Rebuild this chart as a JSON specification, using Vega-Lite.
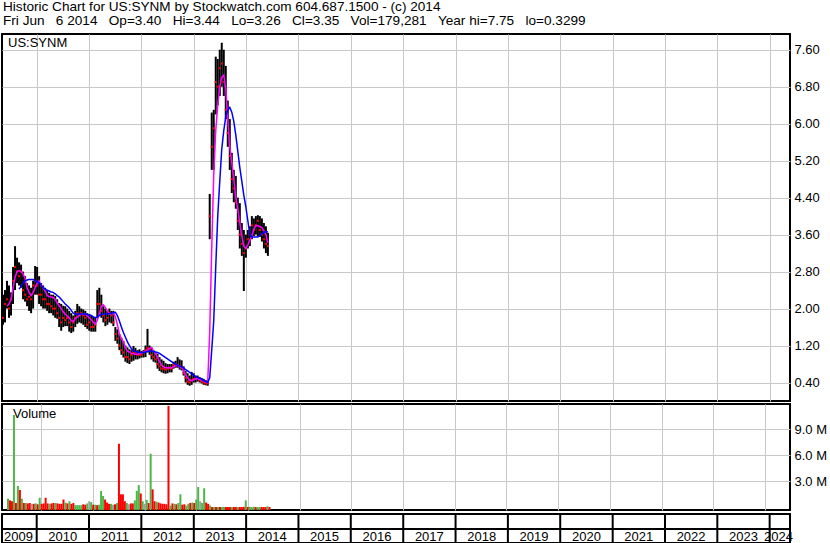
{
  "$schema": "https://vega.github.io/schema/vega-lite/v6.json",
  "background": "white",
  "padding": {"left": 0, "top": 0, "right": 0, "bottom": 0},
  "spacing": 1,
  "title": {
    "text": ["Historic Chart for US:SYNM by Stockwatch.com 604.687.1500 - (c) 2014", "Fri Jun \u00a0\u00a06 2014 \u00a0\u00a0Op=3.40 \u00a0\u00a0Hi=3.44 \u00a0\u00a0Lo=3.26 \u00a0\u00a0Cl=3.35 \u00a0\u00a0Vol=179,281 \u00a0\u00a0Year hi=7.75 \u00a0\u00a0lo=0.3299"],
    "anchor": "start", "frame": "bounds", "font": "Liberation Sans", "fontSize": 13.6, "fontWeight": "normal",
    "baseline": "top", "lineHeight": 14, "color": "black", "offset": 5, "dx": 3
  },
  "config": {
    "view": {"stroke": "black", "strokeWidth": 2},
    "font": "Liberation Sans",
    "axis": {"labelOverlap": false, "labelBound": false},
    "axisY": {"labelOverlap": false},
    "text": {"font": "Liberation Sans", "color": "black"}
  },
  "datasets": {
    "d": [
      {"t":"2009-05-11","h":2.3,"l":1.65,"c":1.8,"m":null,"b":null,"v":1000000,"k":"up"},
      {"t":"2009-05-25","h":2.4,"l":1.7,"c":2.1,"m":null,"b":null,"v":800000,"k":"dn"},
      {"t":"2009-06-08","h":2.6,"l":2.0,"c":2.2,"m":2.05,"b":null,"v":700000,"k":"dn"},
      {"t":"2009-06-22","h":2.5,"l":1.8,"c":2.0,"m":2.1,"b":null,"v":10650000,"k":"up"},
      {"t":"2009-07-06","h":2.35,"l":1.85,"c":2.2,"m":2.2,"b":null,"v":500000,"k":"dn"},
      {"t":"2009-07-20","h":2.9,"l":2.1,"c":2.6,"m":2.45,"b":null,"v":2460000,"k":"up"},
      {"t":"2009-08-03","h":3.35,"l":2.4,"c":2.9,"m":2.68,"b":null,"v":2000000,"k":"dn"},
      {"t":"2009-08-17","h":3.1,"l":2.55,"c":2.8,"m":2.8,"b":null,"v":1000000,"k":"up"},
      {"t":"2009-08-31","h":3.0,"l":2.5,"c":2.7,"m":2.82,"b":2.42,"v":500000,"k":"dn"},
      {"t":"2009-09-14","h":2.95,"l":2.45,"c":2.8,"m":2.8,"b":2.48,"v":500000,"k":"up"},
      {"t":"2009-09-28","h":2.8,"l":2.2,"c":2.4,"m":2.75,"b":2.56,"v":450000,"k":"dn"},
      {"t":"2009-10-12","h":2.7,"l":2.15,"c":2.3,"m":2.65,"b":2.6,"v":500000,"k":"dn"},
      {"t":"2009-10-26","h":2.55,"l":2.05,"c":2.2,"m":2.45,"b":2.62,"v":400000,"k":"eq"},
      {"t":"2009-11-09","h":2.5,"l":1.95,"c":2.25,"m":2.35,"b":2.63,"v":400000,"k":"dn"},
      {"t":"2009-11-23","h":2.45,"l":1.9,"c":2.2,"m":2.28,"b":2.63,"v":450000,"k":"up"},
      {"t":"2009-12-07","h":2.6,"l":2.0,"c":2.5,"m":2.35,"b":2.63,"v":350000,"k":"dn"},
      {"t":"2009-12-21","h":2.92,"l":2.3,"c":2.6,"m":2.45,"b":2.6,"v":1100000,"k":"up"},
      {"t":"2010-01-04","h":2.9,"l":2.3,"c":2.5,"m":2.55,"b":2.58,"v":400000,"k":"dn"},
      {"t":"2010-01-18","h":2.7,"l":2.1,"c":2.3,"m":2.6,"b":2.56,"v":450000,"k":"dn"},
      {"t":"2010-02-01","h":2.55,"l":2.05,"c":2.3,"m":2.5,"b":2.5,"v":1100000,"k":"dn"},
      {"t":"2010-02-15","h":2.5,"l":2.0,"c":2.2,"m":2.45,"b":2.45,"v":450000,"k":"dn"},
      {"t":"2010-03-01","h":2.45,"l":2.0,"c":2.2,"m":2.38,"b":2.42,"v":400000,"k":"up"},
      {"t":"2010-03-15","h":2.4,"l":1.95,"c":2.1,"m":2.28,"b":2.4,"v":450000,"k":"dn"},
      {"t":"2010-03-29","h":2.34,"l":1.9,"c":2.1,"m":2.26,"b":2.38,"v":500000,"k":"dn"},
      {"t":"2010-04-12","h":2.3,"l":1.9,"c":2.05,"m":2.25,"b":2.36,"v":500000,"k":"up"},
      {"t":"2010-04-26","h":2.3,"l":1.85,"c":2.0,"m":2.24,"b":2.35,"v":450000,"k":"dn"},
      {"t":"2010-05-10","h":2.27,"l":1.8,"c":2.0,"m":2.2,"b":2.32,"v":400000,"k":"dn"},
      {"t":"2010-05-24","h":2.2,"l":1.78,"c":1.9,"m":2.12,"b":2.28,"v":400000,"k":"dn"},
      {"t":"2010-06-07","h":2.12,"l":1.6,"c":1.8,"m":2.06,"b":2.25,"v":900000,"k":"dn"},
      {"t":"2010-06-21","h":2.1,"l":1.52,"c":1.7,"m":2.0,"b":2.2,"v":550000,"k":"up"},
      {"t":"2010-07-05","h":2.06,"l":1.6,"c":1.8,"m":1.93,"b":2.15,"v":450000,"k":"dn"},
      {"t":"2010-07-19","h":2.05,"l":1.62,"c":1.75,"m":1.88,"b":2.1,"v":700000,"k":"up"},
      {"t":"2010-08-02","h":2.0,"l":1.62,"c":1.8,"m":1.84,"b":2.06,"v":400000,"k":"dn"},
      {"t":"2010-08-16","h":1.95,"l":1.5,"c":1.7,"m":1.8,"b":2.02,"v":500000,"k":"dn"},
      {"t":"2010-08-30","h":1.9,"l":1.47,"c":1.6,"m":1.74,"b":1.96,"v":250000,"k":"up"},
      {"t":"2010-09-13","h":1.85,"l":1.5,"c":1.7,"m":1.72,"b":1.9,"v":250000,"k":"up"},
      {"t":"2010-09-27","h":1.95,"l":1.6,"c":1.8,"m":1.78,"b":1.88,"v":250000,"k":"up"},
      {"t":"2010-10-11","h":2.1,"l":1.67,"c":1.9,"m":1.82,"b":1.88,"v":250000,"k":"up"},
      {"t":"2010-10-25","h":2.05,"l":1.7,"c":1.85,"m":1.86,"b":1.88,"v":350000,"k":"dn"},
      {"t":"2010-11-08","h":2.0,"l":1.68,"c":1.9,"m":1.88,"b":1.88,"v":300000,"k":"dn"},
      {"t":"2010-11-22","h":1.98,"l":1.65,"c":1.85,"m":1.88,"b":1.88,"v":450000,"k":"up"},
      {"t":"2010-12-06","h":1.95,"l":1.6,"c":1.8,"m":1.88,"b":1.88,"v":700000,"k":"eq"},
      {"t":"2010-12-20","h":1.9,"l":1.56,"c":1.65,"m":1.84,"b":1.87,"v":600000,"k":"up"},
      {"t":"2011-01-03","h":1.88,"l":1.52,"c":1.7,"m":1.8,"b":1.86,"v":300000,"k":"dn"},
      {"t":"2011-01-17","h":1.85,"l":1.5,"c":1.6,"m":1.76,"b":1.85,"v":300000,"k":"up"},
      {"t":"2011-01-31","h":1.82,"l":1.5,"c":1.6,"m":1.7,"b":1.82,"v":250000,"k":"dn"},
      {"t":"2011-02-14","h":1.8,"l":1.5,"c":1.65,"m":1.67,"b":1.8,"v":300000,"k":"up"},
      {"t":"2011-02-28","h":2.4,"l":1.8,"c":2.1,"m":1.75,"b":1.82,"v":1880000,"k":"up"},
      {"t":"2011-03-14","h":2.45,"l":1.85,"c":2.1,"m":1.88,"b":1.85,"v":1300000,"k":"up"},
      {"t":"2011-03-28","h":2.3,"l":1.8,"c":1.95,"m":2.05,"b":1.87,"v":900000,"k":"dn"},
      {"t":"2011-04-11","h":2.05,"l":1.7,"c":1.85,"m":2.08,"b":1.88,"v":550000,"k":"dn"},
      {"t":"2011-04-25","h":2.0,"l":1.62,"c":1.75,"m":2.02,"b":1.88,"v":400000,"k":"dn"},
      {"t":"2011-05-09","h":1.95,"l":1.65,"c":1.8,"m":1.95,"b":1.88,"v":400000,"k":"up"},
      {"t":"2011-05-23","h":2.0,"l":1.7,"c":1.9,"m":1.88,"b":1.89,"v":300000,"k":"eq"},
      {"t":"2011-06-06","h":1.95,"l":1.68,"c":1.85,"m":1.89,"b":1.9,"v":350000,"k":"dn"},
      {"t":"2011-06-20","h":1.95,"l":1.62,"c":1.7,"m":1.9,"b":1.91,"v":500000,"k":"up"},
      {"t":"2011-07-04","h":1.6,"l":1.3,"c":1.45,"m":1.82,"b":1.92,"v":7340000,"k":"dn"},
      {"t":"2011-07-18","h":1.55,"l":1.24,"c":1.35,"m":1.65,"b":1.85,"v":1500000,"k":"dn"},
      {"t":"2011-08-01","h":1.45,"l":1.1,"c":1.2,"m":1.45,"b":1.73,"v":1500000,"k":"dn"},
      {"t":"2011-08-15","h":1.37,"l":1.0,"c":1.1,"m":1.35,"b":1.6,"v":700000,"k":"dn"},
      {"t":"2011-08-29","h":1.3,"l":0.94,"c":1.05,"m":1.28,"b":1.48,"v":500000,"k":"up"},
      {"t":"2011-09-12","h":1.2,"l":0.85,"c":0.95,"m":1.15,"b":1.38,"v":350000,"k":"eq"},
      {"t":"2011-09-26","h":1.16,"l":0.82,"c":0.95,"m":1.08,"b":1.28,"v":450000,"k":"dn"},
      {"t":"2011-10-10","h":1.12,"l":0.8,"c":0.9,"m":1.06,"b":1.2,"v":450000,"k":"dn"},
      {"t":"2011-10-24","h":1.1,"l":0.85,"c":1.0,"m":1.03,"b":1.13,"v":800000,"k":"up"},
      {"t":"2011-11-07","h":1.19,"l":0.87,"c":1.05,"m":1.02,"b":1.08,"v":1900000,"k":"up"},
      {"t":"2011-11-21","h":1.15,"l":0.9,"c":1.05,"m":1.01,"b":1.07,"v":2570000,"k":"up"},
      {"t":"2011-12-05","h":1.1,"l":0.9,"c":1.0,"m":1.01,"b":1.06,"v":1600000,"k":"dn"},
      {"t":"2011-12-19","h":1.12,"l":0.92,"c":1.0,"m":1.02,"b":1.05,"v":700000,"k":"up"},
      {"t":"2012-01-02","h":1.08,"l":0.94,"c":1.0,"m":1.04,"b":1.05,"v":400000,"k":"eq"},
      {"t":"2012-01-16","h":1.1,"l":0.94,"c":1.05,"m":1.06,"b":1.05,"v":850000,"k":"up"},
      {"t":"2012-01-30","h":1.2,"l":0.95,"c":1.1,"m":1.07,"b":1.06,"v":500000,"k":"dn"},
      {"t":"2012-02-13","h":1.56,"l":1.05,"c":1.15,"m":1.1,"b":1.07,"v":6190000,"k":"up"},
      {"t":"2012-02-27","h":1.2,"l":1.0,"c":1.1,"m":1.14,"b":1.08,"v":2070000,"k":"dn"},
      {"t":"2012-03-12","h":1.16,"l":0.9,"c":1.0,"m":1.16,"b":1.08,"v":700000,"k":"dn"},
      {"t":"2012-03-26","h":1.1,"l":0.85,"c":0.95,"m":1.08,"b":1.07,"v":650000,"k":"up"},
      {"t":"2012-04-09","h":1.05,"l":0.83,"c":0.9,"m":1.02,"b":1.06,"v":550000,"k":"dn"},
      {"t":"2012-04-23","h":1.02,"l":0.7,"c":0.8,"m":0.95,"b":1.05,"v":450000,"k":"dn"},
      {"t":"2012-05-07","h":0.95,"l":0.65,"c":0.75,"m":0.85,"b":1.03,"v":400000,"k":"dn"},
      {"t":"2012-05-21","h":0.9,"l":0.62,"c":0.7,"m":0.78,"b":1.0,"v":400000,"k":"dn"},
      {"t":"2012-06-04","h":0.87,"l":0.6,"c":0.7,"m":0.74,"b":0.97,"v":350000,"k":"dn"},
      {"t":"2012-06-18","h":0.82,"l":0.59,"c":0.68,"m":0.72,"b":0.94,"v":11700000,"k":"dn"},
      {"t":"2012-07-02","h":0.8,"l":0.6,"c":0.7,"m":0.72,"b":0.91,"v":200000,"k":"up"},
      {"t":"2012-07-16","h":0.8,"l":0.62,"c":0.72,"m":0.72,"b":0.88,"v":450000,"k":"dn"},
      {"t":"2012-07-30","h":0.8,"l":0.62,"c":0.7,"m":0.72,"b":0.85,"v":400000,"k":"up"},
      {"t":"2012-08-13","h":0.85,"l":0.7,"c":0.78,"m":0.74,"b":0.82,"v":350000,"k":"dn"},
      {"t":"2012-08-27","h":0.87,"l":0.72,"c":0.8,"m":0.76,"b":0.8,"v":500000,"k":"up"},
      {"t":"2012-09-10","h":0.95,"l":0.72,"c":0.78,"m":0.77,"b":0.77,"v":1500000,"k":"up"},
      {"t":"2012-09-24","h":0.9,"l":0.68,"c":0.75,"m":0.75,"b":0.76,"v":300000,"k":"dn"},
      {"t":"2012-10-08","h":0.88,"l":0.66,"c":0.72,"m":0.72,"b":0.74,"v":350000,"k":"dn"},
      {"t":"2012-10-22","h":0.75,"l":0.55,"c":0.6,"m":0.65,"b":0.71,"v":200000,"k":"up"},
      {"t":"2012-11-05","h":0.65,"l":0.4,"c":0.5,"m":0.57,"b":0.68,"v":400000,"k":"up"},
      {"t":"2012-11-19","h":0.6,"l":0.35,"c":0.42,"m":0.5,"b":0.65,"v":500000,"k":"dn"},
      {"t":"2012-12-03","h":0.55,"l":0.33,"c":0.4,"m":0.45,"b":0.62,"v":550000,"k":"up"},
      {"t":"2012-12-17","h":0.63,"l":0.35,"c":0.45,"m":0.44,"b":0.59,"v":500000,"k":"dn"},
      {"t":"2012-12-31","h":0.6,"l":0.4,"c":0.48,"m":0.46,"b":0.56,"v":900000,"k":"up"},
      {"t":"2013-01-14","h":0.55,"l":0.4,"c":0.48,"m":0.48,"b":0.53,"v":2340000,"k":"up"},
      {"t":"2013-01-28","h":0.55,"l":0.42,"c":0.5,"m":0.48,"b":0.51,"v":700000,"k":"eq"},
      {"t":"2013-02-11","h":0.52,"l":0.4,"c":0.45,"m":0.47,"b":0.49,"v":500000,"k":"up"},
      {"t":"2013-02-25","h":0.5,"l":0.38,"c":0.42,"m":0.45,"b":0.47,"v":2200000,"k":"up"},
      {"t":"2013-03-11","h":0.48,"l":0.35,"c":0.4,"m":0.43,"b":0.44,"v":550000,"k":"dn"},
      {"t":"2013-03-25","h":0.45,"l":0.34,"c":0.38,"m":0.41,"b":0.42,"v":400000,"k":"dn"},
      {"t":"2013-04-08","h":0.45,"l":0.33,"c":0.38,"m":0.4,"b":0.4,"v":200000,"k":"up"},
      {"t":"2013-04-22","h":4.48,"l":3.5,"c":4.0,"m":1.5,"b":0.5,"v":30000,"k":"dn"},
      {"t":"2013-05-06","h":6.24,"l":5.0,"c":5.5,"m":3.3,"b":1.1,"v":40000,"k":"up"},
      {"t":"2013-05-20","h":6.3,"l":5.0,"c":5.9,"m":4.9,"b":1.73,"v":30000,"k":"dn"},
      {"t":"2013-06-03","h":7.45,"l":6.2,"c":6.9,"m":5.85,"b":2.9,"v":30000,"k":"up"},
      {"t":"2013-06-17","h":7.4,"l":6.4,"c":6.8,"m":6.4,"b":4.0,"v":40000,"k":"dn"},
      {"t":"2013-07-01","h":7.6,"l":6.6,"c":7.2,"m":6.8,"b":4.75,"v":30000,"k":"up"},
      {"t":"2013-07-15","h":7.75,"l":6.8,"c":7.3,"m":7.0,"b":5.45,"v":30000,"k":"up"},
      {"t":"2013-07-29","h":7.6,"l":6.6,"c":6.9,"m":7.05,"b":5.85,"v":40000,"k":"dn"},
      {"t":"2013-08-12","h":7.25,"l":6.1,"c":6.3,"m":6.75,"b":6.15,"v":30000,"k":"dn"},
      {"t":"2013-08-26","h":6.5,"l":5.5,"c":5.8,"m":6.1,"b":6.3,"v":30000,"k":"dn"},
      {"t":"2013-09-09","h":6.1,"l":5.0,"c":5.3,"m":5.5,"b":6.35,"v":30000,"k":"up"},
      {"t":"2013-09-23","h":5.37,"l":4.5,"c":4.8,"m":5.16,"b":6.25,"v":40000,"k":"dn"},
      {"t":"2013-10-07","h":5.0,"l":4.3,"c":4.6,"m":4.8,"b":6.05,"v":30000,"k":"dn"},
      {"t":"2013-10-21","h":4.87,"l":4.16,"c":4.3,"m":4.4,"b":5.75,"v":30000,"k":"up"},
      {"t":"2013-11-04","h":4.4,"l":3.7,"c":3.9,"m":4.15,"b":5.4,"v":40000,"k":"dn"},
      {"t":"2013-11-18","h":4.28,"l":3.3,"c":3.6,"m":3.85,"b":5.05,"v":30000,"k":"dn"},
      {"t":"2013-12-02","h":3.85,"l":3.14,"c":3.4,"m":3.57,"b":4.75,"v":60000,"k":"dn"},
      {"t":"2013-12-16","h":3.7,"l":2.38,"c":3.2,"m":3.35,"b":4.45,"v":800000,"k":"up"},
      {"t":"2013-12-30","h":3.6,"l":3.1,"c":3.3,"m":3.3,"b":4.2,"v":40000,"k":"dn"},
      {"t":"2014-01-13","h":3.7,"l":3.3,"c":3.5,"m":3.38,"b":3.9,"v":60000,"k":"up"},
      {"t":"2014-01-27","h":3.78,"l":3.35,"c":3.6,"m":3.48,"b":3.6,"v":30000,"k":"up"},
      {"t":"2014-02-10","h":4.0,"l":3.5,"c":3.8,"m":3.57,"b":3.55,"v":60000,"k":"up"},
      {"t":"2014-02-24","h":3.95,"l":3.57,"c":3.7,"m":3.72,"b":3.55,"v":30000,"k":"dn"},
      {"t":"2014-03-10","h":4.0,"l":3.6,"c":3.8,"m":3.8,"b":3.55,"v":40000,"k":"up"},
      {"t":"2014-03-24","h":4.02,"l":3.57,"c":3.9,"m":3.79,"b":3.55,"v":30000,"k":"up"},
      {"t":"2014-04-07","h":4.0,"l":3.55,"c":3.7,"m":3.77,"b":3.58,"v":40000,"k":"dn"},
      {"t":"2014-04-21","h":3.95,"l":3.45,"c":3.6,"m":3.75,"b":3.62,"v":30000,"k":"dn"},
      {"t":"2014-05-05","h":3.85,"l":3.3,"c":3.5,"m":3.68,"b":3.65,"v":30000,"k":"dn"},
      {"t":"2014-05-19","h":3.78,"l":3.2,"c":3.4,"m":3.6,"b":3.66,"v":120000,"k":"up"},
      {"t":"2014-06-02","h":3.64,"l":3.14,"c":3.35,"m":3.42,"b":3.66,"v":40000,"k":"dn"}
    ],
    "years": [
      {"d":"2010-01-01"},{"d":"2011-01-01"},{"d":"2012-01-01"},{"d":"2013-01-01"},{"d":"2014-01-01"},
      {"d":"2015-01-01"},{"d":"2016-01-01"},{"d":"2017-01-01"},{"d":"2018-01-01"},{"d":"2019-01-01"},
      {"d":"2020-01-01"},{"d":"2021-01-01"},{"d":"2022-01-01"},{"d":"2023-01-01"},{"d":"2024-01-01"}
    ],
    "labels": [
      {"yr":"2009","mid":"2009-08-27"},{"yr":"2010","mid":"2010-07-02"},{"yr":"2011","mid":"2011-07-02"},
      {"yr":"2012","mid":"2012-07-02"},{"yr":"2013","mid":"2013-07-02"},{"yr":"2014","mid":"2014-07-02"},
      {"yr":"2015","mid":"2015-07-02"},{"yr":"2016","mid":"2016-07-02"},{"yr":"2017","mid":"2017-07-02"},
      {"yr":"2018","mid":"2018-07-02"},{"yr":"2019","mid":"2019-07-02"},{"yr":"2020","mid":"2020-07-02"},
      {"yr":"2021","mid":"2021-07-02"},{"yr":"2022","mid":"2022-07-02"},{"yr":"2023","mid":"2023-07-02"},
      {"yr":"2024","mid":"2024-03-02"}
    ]
  },
  "vconcat": [
    {
      "width": 788,
      "height": 367,
      "data": {"name": "d"},
      "layer": [
        {
          "mark": {"type": "rule", "color": "black", "strokeWidth": 2},
          "encoding": {
            "x": {"field": "t", "type": "temporal",
              "scale": {"domain": [{"year":2009,"month":5,"date":4,"utc":true},{"year":2024,"month":5,"date":22,"utc":true}], "nice": false},
              "axis": {"values": [{"year":2010,"month":1,"date":1,"utc":true},{"year":2011,"month":1,"date":1,"utc":true},{"year":2012,"month":1,"date":1,"utc":true},{"year":2013,"month":1,"date":1,"utc":true},{"year":2014,"month":1,"date":1,"utc":true},{"year":2015,"month":1,"date":1,"utc":true},{"year":2016,"month":1,"date":1,"utc":true},{"year":2017,"month":1,"date":1,"utc":true},{"year":2018,"month":1,"date":1,"utc":true},{"year":2019,"month":1,"date":1,"utc":true},{"year":2020,"month":1,"date":1,"utc":true},{"year":2021,"month":1,"date":1,"utc":true},{"year":2022,"month":1,"date":1,"utc":true},{"year":2023,"month":1,"date":1,"utc":true},{"year":2024,"month":1,"date":1,"utc":true}],
                "labels": false, "ticks": false, "domain": false, "grid": true, "gridColor": "#c8c8c8", "gridOpacity": 1, "title": null, "minExtent": 0, "maxExtent": 0}},
            "y": {"field": "l", "type": "quantitative",
              "scale": {"domain": [0, 7.94], "nice": false, "zero": false},
              "axis": {"orient": "right", "values": [0.4,0.8,1.2,1.6,2.0,2.4,2.8,3.2,3.6,4.0,4.4,4.8,5.2,5.6,6.0,6.4,6.8,7.2,7.6],
                "format": ".2f", "ticks": false, "domain": false, "grid": true, "gridColor": "#c8c8c8", "gridOpacity": 1, "labelOverlap": false, "labelBound": false,
                "labelFont": "Liberation Sans", "labelFontSize": 13, "labelColor": "black", "labelPadding": 4, "title": null}},
            "y2": {"field": "h"}
          }
        },
        {
          "mark": {"type": "square", "color": "#ff0000", "size": 4, "opacity": 1},
          "encoding": {
            "x": {"field": "t", "type": "temporal"},
            "y": {"field": "c", "type": "quantitative"}
          }
        },
        {
          "mark": {"type": "line", "color": "#ff00ff", "strokeWidth": 1.5},
          "encoding": {
            "x": {"field": "t", "type": "temporal"},
            "y": {"field": "m", "type": "quantitative"}
          }
        },
        {
          "mark": {"type": "line", "color": "#0000ff", "strokeWidth": 1.5},
          "encoding": {
            "x": {"field": "t", "type": "temporal"},
            "y": {"field": "b", "type": "quantitative"}
          }
        },
        {
          "data": {"values": [{"label": "US:SYNM"}]},
          "mark": {"type": "text", "align": "left", "baseline": "middle", "fontSize": 13, "font": "Liberation Sans", "color": "black"},
          "encoding": {
            "x": {"datum": {"year":2009,"month":6,"date":15,"utc":true}, "type": "temporal"},
            "y": {"datum": 7.74, "type": "quantitative"},
            "text": {"field": "label"}
          }
        }
      ]
    },
    {
      "width": 788,
      "height": 106,
      "data": {"name": "d"},
      "layer": [
        {
          "mark": {"type": "bar", "size": 2, "opacity": 1},
          "encoding": {
            "x": {"field": "t", "type": "temporal",
              "scale": {"domain": [{"year":2009,"month":5,"date":4,"utc":true},{"year":2024,"month":5,"date":22,"utc":true}], "nice": false},
              "axis": {"values": [{"year":2010,"month":1,"date":1,"utc":true},{"year":2011,"month":1,"date":1,"utc":true},{"year":2012,"month":1,"date":1,"utc":true},{"year":2013,"month":1,"date":1,"utc":true},{"year":2014,"month":1,"date":1,"utc":true},{"year":2015,"month":1,"date":1,"utc":true},{"year":2016,"month":1,"date":1,"utc":true},{"year":2017,"month":1,"date":1,"utc":true},{"year":2018,"month":1,"date":1,"utc":true},{"year":2019,"month":1,"date":1,"utc":true},{"year":2020,"month":1,"date":1,"utc":true},{"year":2021,"month":1,"date":1,"utc":true},{"year":2022,"month":1,"date":1,"utc":true},{"year":2023,"month":1,"date":1,"utc":true},{"year":2024,"month":1,"date":1,"utc":true}],
                "labels": false, "ticks": false, "domain": false, "grid": true, "gridColor": "#c8c8c8", "gridOpacity": 1, "title": null, "minExtent": 0, "maxExtent": 0}},
            "y": {"field": "v", "type": "quantitative",
              "scale": {"domain": [-310000, 11920000], "nice": false, "zero": false},
              "axis": {"orient": "right", "values": [3000000, 6000000, 9000000],
                "labelExpr": "format(datum.value/1000000, '.1f') + ' M'", "ticks": false, "domain": false, "grid": true, "gridColor": "#c8c8c8", "gridOpacity": 1, "labelOverlap": false,
                "labelFont": "Liberation Sans", "labelFontSize": 13, "labelColor": "black", "labelPadding": 4, "title": null}},
            "y2": {"datum": -310000},
            "color": {"field": "k", "type": "nominal", "scale": {"domain": ["up", "dn", "eq"], "range": ["#4cb648", "#ff0000", "#a0a0a0"]}, "legend": null}
          }
        },
        {
          "data": {"values": [{"label": "Volume"}]},
          "mark": {"type": "text", "align": "left", "baseline": "middle", "fontSize": 13, "font": "Liberation Sans", "color": "black"},
          "encoding": {
            "x": {"datum": {"year":2009,"month":6,"date":15,"utc":true}, "type": "temporal"},
            "y": {"datum": 10770000, "type": "quantitative"},
            "text": {"field": "label"}
          }
        }
      ]
    },
    {
      "width": 788,
      "height": 29,
      "layer": [
        {
          "data": {"name": "years"},
          "mark": {"type": "rule", "color": "black", "strokeWidth": 2},
          "encoding": {
            "x": {"field": "d", "type": "temporal",
              "scale": {"domain": [{"year":2009,"month":5,"date":4,"utc":true},{"year":2024,"month":5,"date":22,"utc":true}], "nice": false},
              "axis": null}
          }
        },
        {
          "data": {"values": [{"z": 0}]},
          "mark": {"type": "rule", "color": "black", "strokeWidth": 2},
          "encoding": {
            "y": {"datum": 14, "type": "quantitative", "scale": {"domain": [0, 29], "nice": false, "zero": false}, "axis": null}
          }
        },
        {
          "data": {"name": "labels"},
          "mark": {"type": "text", "align": "center", "baseline": "middle", "fontSize": 13, "font": "Liberation Sans", "color": "black"},
          "encoding": {
            "x": {"field": "mid", "type": "temporal"},
            "y": {"datum": 6.5, "type": "quantitative"},
            "text": {"field": "yr"}
          }
        }
      ]
    }
  ]
}
